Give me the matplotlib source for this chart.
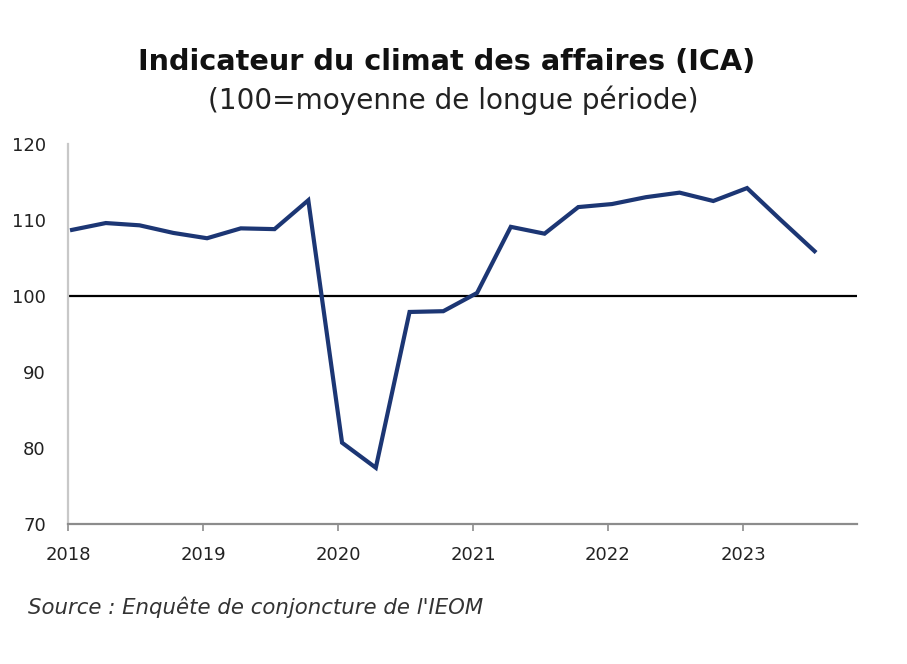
import matplotlib
matplotlib.use("Agg")
import matplotlib.pyplot as plt
import numpy as np

# Data (quarterly, 2018 Q1 .. 2023 Q3)
years = [2018, 2019, 2020, 2021, 2022, 2023]
values_2018 = [108.7, 109.6, 109.3, 108.3]
values_2019 = [107.6, 108.9, 108.8, 112.6]
values_2020 = [80.7, 77.4, 97.9, 98.0]
values_2021 = [100.4, 109.1, 108.2, 111.7]
values_2022 = [112.1, 113.0, 113.6, 112.5]
values_2023 = [114.2, 110.0, 105.9]
yticks = [70, 80, 90, 100, 110, 120]
title = "Indicateur du climat des affaires (ICA)"
subtitle = "(100=moyenne de longue période)"
source = "Source : Enquête de conjoncture de l'IEOM"

series = [values_2018, values_2019, values_2020, values_2021, values_2022, values_2023]
xs, ys = [], []
for yr, vals in zip(years, series):
    for q, v in enumerate(vals):
        xs.append(yr + q * 0.25 + 0.03)
        ys.append(v)

W, H = 907, 664
fig = plt.figure(figsize=(W / 100, H / 100), dpi=100)
ax = fig.add_axes([68 / W, 1 - 524 / H, (857 - 68) / W, (524 - 144) / H])

ax.plot(xs, ys, color="#1c3674", lw=3.0, solid_joinstyle="miter", zorder=3)
ax.axhline(100, color="black", lw=1.6, zorder=2)

ax.set_xlim(2018, 2018 + (857 - 68) / 135)
ax.set_ylim(70, 120)
ax.set_yticks(yticks)
ax.set_xticks(years)
ax.set_xticklabels([str(y) for y in years])

for s in ["top", "right"]:
    ax.spines[s].set_visible(False)
ax.spines["left"].set_color("#c8c8c8")
ax.spines["left"].set_linewidth(1.6)
ax.spines["bottom"].set_color("#8c8c8c")
ax.spines["bottom"].set_linewidth(1.6)
ax.tick_params(axis="y", length=0, pad=16, labelsize=13, labelcolor="#222222")
ax.tick_params(axis="x", length=5, width=1.2, color="#8c8c8c", pad=11,
               labelsize=13, labelcolor="#222222")

fig.canvas.draw()
renderer = fig.canvas.get_renderer()

def fit_text(x, y, s, target_w, **kw):
    t = fig.text(x / W, 1 - y / H, s, ha=kw.pop("ha", "center"), va="center", fontsize=14, **kw)
    bb = t.get_window_extent(renderer)
    t.set_fontsize(14 * target_w / bb.width)
    return t

fit_text(447, 62, title, 620, fontweight="bold", color="#111111")
fit_text(453, 100, subtitle, 493, color="#222222")
fit_text(28, 607, source, 457, ha="left", style="italic", color="#333333")

fig.savefig("out.png", dpi=100)
